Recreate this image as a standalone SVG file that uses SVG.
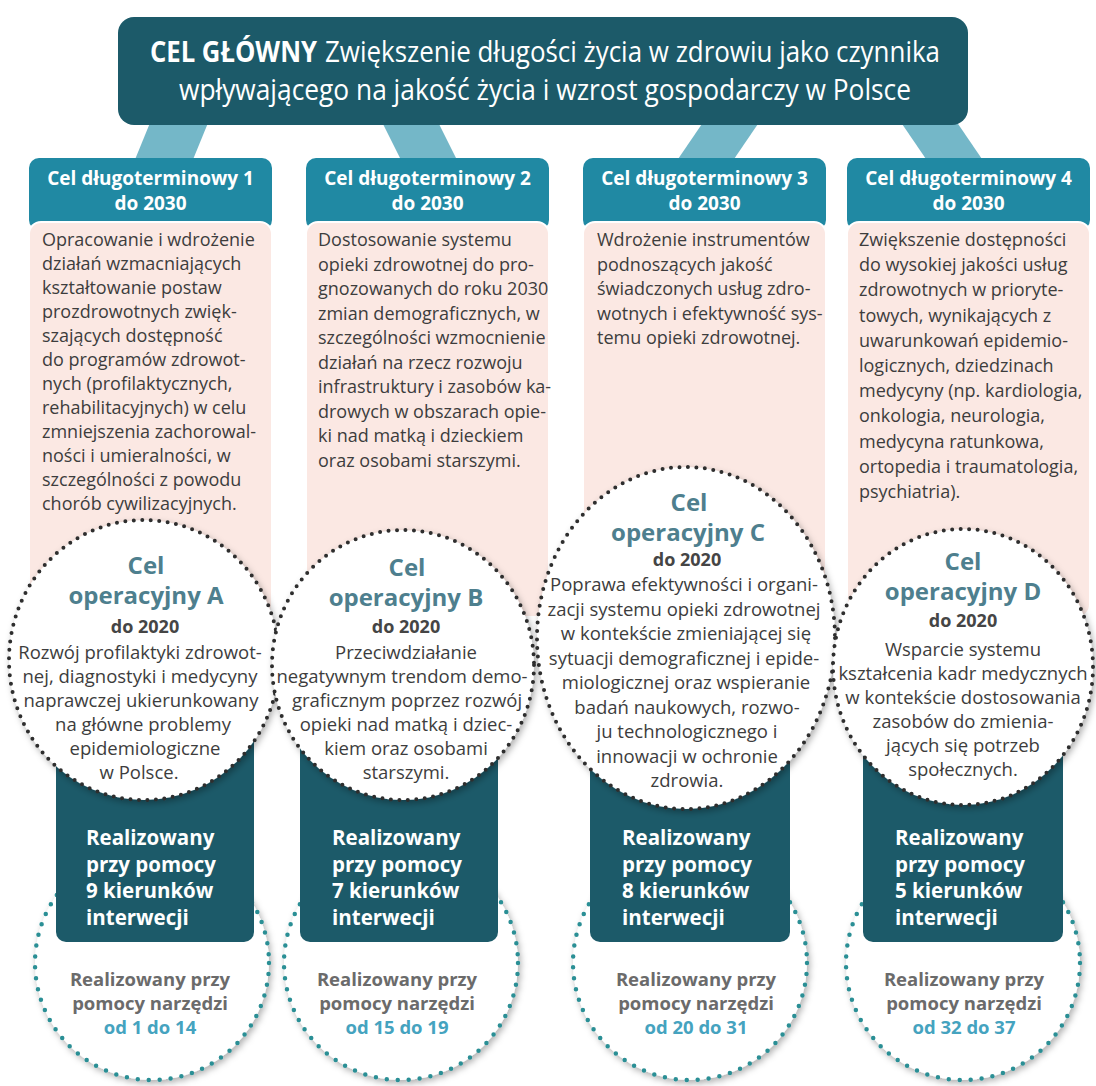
<svg xmlns="http://www.w3.org/2000/svg" width="1096" height="1086" viewBox="0 0 1096 1086">
<defs>
<style>
.t{font-family:"Open Sans","Liberation Sans",sans-serif}
.title{font-size:29px;fill:#fff}
.hdr{font-size:19px;font-weight:700;fill:#fff;text-anchor:middle}
.body{font-size:18px;fill:#3d3d3d}
.optitle{font-size:24px;font-weight:700;fill:#4e7f8e;text-anchor:middle}
.opdo{font-size:18px;font-weight:700;fill:#454545;text-anchor:middle}
.optext{font-size:18.5px;fill:#3d3d3d;text-anchor:middle}
.dir{font-size:20.5px;font-weight:700;fill:#fff}
.tool{font-size:18.5px;font-weight:700;fill:#6b6b6b;text-anchor:middle}
.num{fill:#45a3bf}
.dark{fill:#1c5a69}
.head{fill:#2089a3}
.pink{fill:#fbe8e3;stroke:#fff;stroke-width:2}
.conn{fill:#74b7c8}
.op{fill:#fff;stroke:#2e2e2e;stroke-width:4;stroke-dasharray:0 8.5;stroke-linecap:round}
.tc{fill:#fff;stroke:#2c8f95;stroke-width:4.5;stroke-dasharray:0 11;stroke-linecap:round}
</style>
<filter id="sh" x="-20%" y="-20%" width="140%" height="140%">
<feDropShadow dx="2" dy="3" stdDeviation="3" flood-color="#000" flood-opacity="0.3"/>
</filter>
</defs>
<rect width="1096" height="1086" fill="#fff"/>

<g id="connectors">
<polygon class="conn" points="152,118 210,118 192,162 134,162"/>
<polygon class="conn" points="380,118 436,118 458,162 402,162"/>
<polygon class="conn" points="706,118 762,118 732,162 676,162"/>
<polygon class="conn" points="898,118 954,118 984,162 928,162"/>
</g>

<g id="main-goal">
<rect class="dark" x="118" y="17" width="850" height="108" rx="16"/>
<text class="t title" x="150" y="62" font-weight="700" textLength="167" lengthAdjust="spacingAndGlyphs">CEL GŁÓWNY</text>
<text class="t title" x="325" y="62" textLength="615" lengthAdjust="spacingAndGlyphs">Zwiększenie długości życia w zdrowiu jako czynnika</text>
<text class="t title" x="545" y="100" text-anchor="middle" textLength="732" lengthAdjust="spacingAndGlyphs">wpływającego na jakość życia i wzrost gospodarczy w Polsce</text>
</g>

<!-- Column 1 -->
<g id="tools-1">
<circle class="tc" cx="152" cy="963" r="117" filter="url(#sh)"/>
<text class="t tool" x="150" y="986">Realizowany przy</text>
<text class="t tool" x="150" y="1010">pomocy narzędzi</text>
<text class="t tool num" x="150" y="1034">od 1 do 14</text>
</g>
<g id="long-term-1">
<rect class="head" x="29" y="158" width="243" height="72" rx="10"/>
<text class="t hdr" x="150.5" y="185">Cel długoterminowy 1</text>
<text class="t hdr" x="150.5" y="210">do 2030</text>
<rect class="pink" x="29" y="222" width="243" height="395" rx="12"/>
<text class="t body" x="42" y="246">Opracowanie i wdrożenie</text>
<text class="t body" x="42" y="270">działań wzmacniających</text>
<text class="t body" x="42" y="294">kształtowanie postaw</text>
<text class="t body" x="42" y="318">prozdrowotnych zwięk-</text>
<text class="t body" x="42" y="342">szających dostępność</text>
<text class="t body" x="42" y="366">do programów zdrowot-</text>
<text class="t body" x="42" y="390">nych (profilaktycznych,</text>
<text class="t body" x="42" y="414">rehabilitacyjnych) w celu</text>
<text class="t body" x="42" y="438">zmniejszenia zachorowal-</text>
<text class="t body" x="42" y="462">ności i umieralności, w</text>
<text class="t body" x="42" y="486">szczególności z powodu</text>
<text class="t body" x="42" y="510">chorób cywilizacyjnych.</text>
</g>
<g id="directions-1">
<rect class="dark" x="56" y="700" width="198" height="242" rx="10"/>
<text class="t dir" x="86" y="845">Realizowany</text>
<text class="t dir" x="86" y="871.5">przy pomocy</text>
<text class="t dir" x="86" y="898">9 kierunków</text>
<text class="t dir" x="86" y="924.5">interwecji</text>
</g>
<g id="operational-A">
<ellipse class="op" cx="144" cy="660" rx="135" ry="140" filter="url(#sh)"/>
<text class="t optitle" x="146" y="574">Cel</text>
<text class="t optitle" x="146" y="604">operacyjny A</text>
<text class="t opdo" x="145" y="633">do 2020</text>
<text class="t optext" x="140" y="659">Rozwój profilaktyki zdrowot-</text>
<text class="t optext" x="140" y="683">nej, diagnostyki i medycyny</text>
<text class="t optext" x="141" y="707">naprawczej ukierunkowany</text>
<text class="t optext" x="143" y="731">na główne problemy</text>
<text class="t optext" x="145" y="755">epidemiologiczne</text>
<text class="t optext" x="139" y="779">w Polsce.</text>
</g>

<!-- Column 2 -->
<g id="tools-2">
<circle class="tc" cx="401" cy="963" r="117" filter="url(#sh)"/>
<text class="t tool" x="397" y="986">Realizowany przy</text>
<text class="t tool" x="397" y="1010">pomocy narzędzi</text>
<text class="t tool num" x="397" y="1034">od 15 do 19</text>
</g>
<g id="long-term-2">
<rect class="head" x="306" y="158" width="243" height="72" rx="10"/>
<text class="t hdr" x="427.5" y="185">Cel długoterminowy 2</text>
<text class="t hdr" x="427.5" y="210">do 2030</text>
<rect class="pink" x="306" y="222" width="243" height="395" rx="12"/>
<text class="t body" x="318" y="246">Dostosowanie systemu</text>
<text class="t body" x="318" y="270.5">opieki zdrowotnej do pro-</text>
<text class="t body" x="318" y="295">gnozowanych do roku 2030</text>
<text class="t body" x="318" y="319.5">zmian demograficznych, w</text>
<text class="t body" x="318" y="344">szczególności wzmocnienie</text>
<text class="t body" x="318" y="368.5">działań na rzecz rozwoju</text>
<text class="t body" x="318" y="393">infrastruktury i zasobów ka-</text>
<text class="t body" x="318" y="417.5">drowych w obszarach opie-</text>
<text class="t body" x="318" y="442">ki nad matką i dzieckiem</text>
<text class="t body" x="318" y="466.5">oraz osobami starszymi.</text>
</g>
<g id="directions-2">
<rect class="dark" x="300" y="700" width="198" height="242" rx="10"/>
<text class="t dir" x="332" y="845">Realizowany</text>
<text class="t dir" x="332" y="871.5">przy pomocy</text>
<text class="t dir" x="332" y="898">7 kierunków</text>
<text class="t dir" x="332" y="924.5">interwecji</text>
</g>
<g id="operational-B">
<ellipse class="op" cx="403" cy="665" rx="131" ry="135" filter="url(#sh)"/>
<text class="t optitle" x="407" y="576">Cel</text>
<text class="t optitle" x="406" y="606">operacyjny B</text>
<text class="t opdo" x="406" y="633">do 2020</text>
<text class="t optext" x="406" y="659">Przeciwdziałanie</text>
<text class="t optext" x="402" y="683">negatywnym trendom demo-</text>
<text class="t optext" x="407" y="707">graficznym poprzez rozwój</text>
<text class="t optext" x="406" y="731">opieki nad matką i dziec-</text>
<text class="t optext" x="406" y="755">kiem oraz osobami</text>
<text class="t optext" x="406" y="779">starszymi.</text>
</g>

<!-- Column 3 -->
<g id="tools-3">
<circle class="tc" cx="690" cy="963" r="117" filter="url(#sh)"/>
<text class="t tool" x="696" y="986">Realizowany przy</text>
<text class="t tool" x="696" y="1010">pomocy narzędzi</text>
<text class="t tool num" x="696" y="1034">od 20 do 31</text>
</g>
<g id="long-term-3">
<rect class="head" x="583" y="158" width="243" height="72" rx="10"/>
<text class="t hdr" x="704.5" y="185">Cel długoterminowy 3</text>
<text class="t hdr" x="704.5" y="210">do 2030</text>
<rect class="pink" x="583" y="222" width="243" height="395" rx="12"/>
<text class="t body" x="597" y="246">Wdrożenie instrumentów</text>
<text class="t body" x="597" y="270.5">podnoszących jakość</text>
<text class="t body" x="597" y="295">świadczonych usług zdro-</text>
<text class="t body" x="597" y="319.5">wotnych i efektywność sys-</text>
<text class="t body" x="597" y="344">temu opieki zdrowotnej.</text>
</g>
<g id="directions-3">
<rect class="dark" x="590" y="700" width="200" height="242" rx="10"/>
<text class="t dir" x="622" y="845">Realizowany</text>
<text class="t dir" x="622" y="871.5">przy pomocy</text>
<text class="t dir" x="622" y="898">8 kierunków</text>
<text class="t dir" x="622" y="924.5">interwecji</text>
</g>
<g id="operational-C">
<ellipse class="op" cx="686" cy="638" rx="149" ry="171" filter="url(#sh)"/>
<text class="t optitle" x="689" y="511">Cel</text>
<text class="t optitle" x="688" y="541">operacyjny C</text>
<text class="t opdo" x="687" y="566">do 2020</text>
<text class="t optext" x="684" y="591">Poprawa efektywności i organi-</text>
<text class="t optext" x="684" y="615.5">zacji systemu opieki zdrowotnej</text>
<text class="t optext" x="686" y="640">w kontekście zmieniającej się</text>
<text class="t optext" x="684" y="664.5">sytuacji demograficznej i epide-</text>
<text class="t optext" x="686" y="689">miologicznej oraz wspieranie</text>
<text class="t optext" x="687" y="713.5">badań naukowych, rozwo-</text>
<text class="t optext" x="687" y="738">ju technologicznego i</text>
<text class="t optext" x="687" y="762.5">innowacji w ochronie</text>
<text class="t optext" x="687" y="787">zdrowia.</text>
</g>

<!-- Column 4 -->
<g id="tools-4">
<circle class="tc" cx="963" cy="963" r="117" filter="url(#sh)"/>
<text class="t tool" x="964" y="986">Realizowany przy</text>
<text class="t tool" x="964" y="1010">pomocy narzędzi</text>
<text class="t tool num" x="964" y="1034">od 32 do 37</text>
</g>
<g id="long-term-4">
<rect class="head" x="847" y="158" width="243" height="72" rx="10"/>
<text class="t hdr" x="968.5" y="185">Cel długoterminowy 4</text>
<text class="t hdr" x="968.5" y="210">do 2030</text>
<rect class="pink" x="847" y="222" width="243" height="395" rx="12"/>
<text class="t body" x="859" y="246">Zwiększenie dostępności</text>
<text class="t body" x="859" y="271.2">do wysokiej jakości usług</text>
<text class="t body" x="859" y="296.4">zdrowotnych w prioryte-</text>
<text class="t body" x="859" y="321.6">towych, wynikających z</text>
<text class="t body" x="859" y="346.8">uwarunkowań epidemio-</text>
<text class="t body" x="859" y="372">logicznych, dziedzinach</text>
<text class="t body" x="859" y="397.2">medycyny (np. kardiologia,</text>
<text class="t body" x="859" y="422.4">onkologia, neurologia,</text>
<text class="t body" x="859" y="447.6">medycyna ratunkowa,</text>
<text class="t body" x="859" y="472.8">ortopedia i traumatologia,</text>
<text class="t body" x="859" y="498">psychiatria).</text>
</g>
<g id="directions-4">
<rect class="dark" x="863" y="700" width="200" height="242" rx="10"/>
<text class="t dir" x="895" y="845">Realizowany</text>
<text class="t dir" x="895" y="871.5">przy pomocy</text>
<text class="t dir" x="895" y="898">5 kierunków</text>
<text class="t dir" x="895" y="924.5">interwecji</text>
</g>
<g id="operational-D">
<ellipse class="op" cx="963" cy="667" rx="130" ry="138" filter="url(#sh)"/>
<text class="t optitle" x="963" y="570">Cel</text>
<text class="t optitle" x="963" y="600">operacyjny D</text>
<text class="t opdo" x="963" y="627">do 2020</text>
<text class="t optext" x="963" y="656">Wsparcie systemu</text>
<text class="t optext" x="963" y="680">kształcenia kadr medycznych</text>
<text class="t optext" x="963" y="704">w kontekście dostosowania</text>
<text class="t optext" x="963" y="728">zasobów do zmienia-</text>
<text class="t optext" x="963" y="752">jących się potrzeb</text>
<text class="t optext" x="963" y="776">społecznych.</text>
</g>
</svg>
